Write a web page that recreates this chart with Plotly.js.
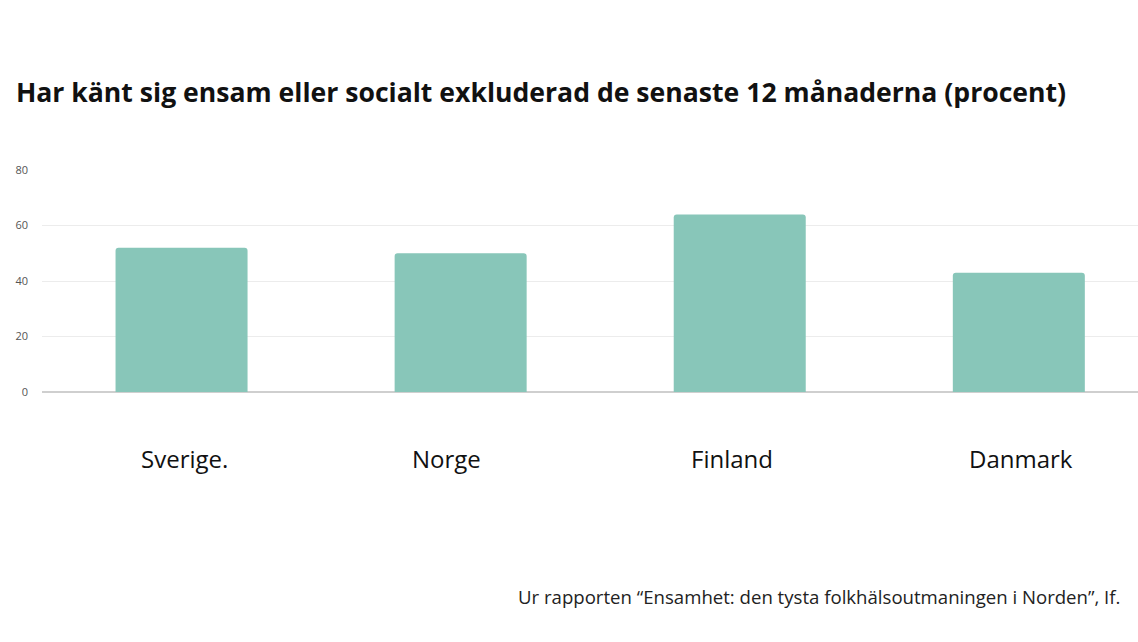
<!DOCTYPE html>
<html><head><meta charset="utf-8">
<script src="https://cdn.plot.ly/plotly-3.0.1.min.js"></script>
<style>html,body{margin:0;padding:0;background:#fff;}#chart{width:1138px;height:642px;}</style>
</head><body><div id="chart"></div>
<script>
const countries = ["Sverige.", "Norge", "Finland", "Danmark"];
const percent = [52, 50, 64, 43];
const yTicks = [0, 20, 40, 60, 80];
const titleText = "Har känt sig ensam eller socialt exkluderad de senaste 12 månaderna (procent)";
const sourceText = "Ur rapporten “Ensamhet: den tysta folkhälsoutmaningen i Norden”, If.";

// label offsets (styling only, pixels)
const labelShiftPx = [3, -14, -8, 2];

const trace = {
  type: "bar",
  x: countries,
  y: percent,
  width: 0.473,
  marker: {color: "#88c6b9", cornerradius: 3},
  hoverinfo: "x+y"
};

const catAnnotations = countries.map((c, i) => ({
  text: c, xref: "x", yref: "paper", x: c, y: -0.298, yanchor: "middle",
  xanchor: "center", xshift: labelShiftPx[i], showarrow: false,
  font: {size: 24, color: "#111", family: "Open Sans, sans-serif"}
}));

const layout = {
  width: 1138, height: 642,
  paper_bgcolor: "#fff", plot_bgcolor: "#fff",
  margin: {l: 42, r: 0, t: 170, b: 250},
  showlegend: false,
  font: {family: "Open Sans, sans-serif"},
  title: {text: "<b>" + titleText + "</b>", x: 0.014, xanchor: "left", y: 0.855, yanchor: "middle",
          font: {size: 26.6, color: "#111", family: "Open Sans, sans-serif"}},
  xaxis: {
    range: [-0.5, 3.427],
    showgrid: false, zeroline: false, showline: false, ticks: "",
    showticklabels: false
  },
  yaxis: {
    range: [0, 80],
    tickvals: yTicks,
    showgrid: true, gridcolor: "#ececec", gridwidth: 1,
    zeroline: true, zerolinecolor: "#cfcfcf", zerolinewidth: 1.5,
    showline: false, ticks: "",
    tickfont: {size: 11, color: "#555"},
    ticklabelstandoff: 13
  },
  annotations: catAnnotations.concat([{
    text: sourceText, xref: "paper", yref: "paper", x: 0.985, xanchor: "right",
    y: -0.919, yanchor: "middle", showarrow: false,
    font: {size: 18.6, color: "#222", family: "Open Sans, sans-serif"}
  }])
};

Plotly.newPlot("chart", [trace], layout, {displayModeBar: false, staticPlot: true});
</script></body></html>
